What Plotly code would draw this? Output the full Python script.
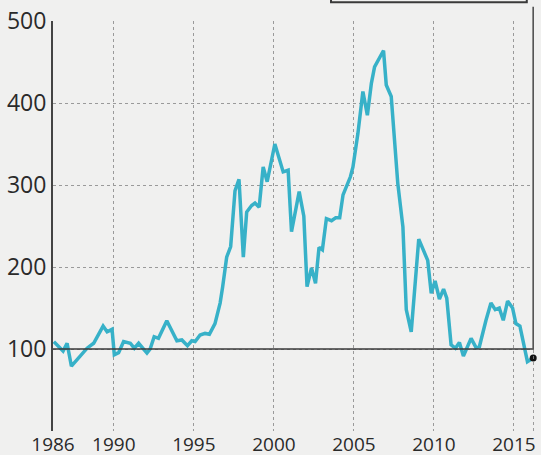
import plotly.graph_objects as go

# Traced data (decimal year, index value)
years = [1986.25, 1986.83, 1987.08, 1987.35, 1988.33, 1988.74, 1989.33, 1989.58, 1989.89,
         1990.03, 1990.30, 1990.61, 1991.03, 1991.28, 1991.55, 1992.07, 1992.27, 1992.52,
         1992.79, 1993.31, 1993.94, 1994.25, 1994.60, 1994.87, 1995.08, 1995.39, 1995.70,
         1995.97, 1996.32, 1996.64, 1996.80, 1997.05, 1997.30, 1997.57, 1997.82, 1998.09,
         1998.30, 1998.61, 1998.82, 1999.08, 1999.33, 1999.58, 2000.06, 2000.58, 2000.89,
         2001.10, 2001.58, 2001.87, 2002.07, 2002.35, 2002.60, 2002.82, 2003.03, 2003.28,
         2003.60, 2003.86, 2004.11, 2004.32, 2004.78, 2004.94, 2005.25, 2005.56, 2005.84,
         2006.09, 2006.29, 2006.60, 2006.85, 2007.02, 2007.33, 2007.74, 2008.06, 2008.27,
         2008.58, 2009.05, 2009.61, 2009.83, 2010.07, 2010.34, 2010.60, 2010.80, 2011.07,
         2011.34, 2011.59, 2011.84, 2012.32, 2012.63, 2012.84, 2013.25, 2013.56, 2013.83,
         2014.08, 2014.33, 2014.60, 2014.91, 2015.12, 2015.37, 2015.84, 2016.20]
values = [109, 97.5, 107, 79, 101, 107, 128, 121, 124,
          93, 95.5, 109, 107, 101, 107, 95, 100, 115,
          113, 134.5, 110, 111, 104, 110, 109, 117, 119,
          118, 131, 156, 176, 212, 225, 293, 307, 212,
          267, 275, 278, 273, 322, 304, 350, 316, 318,
          243, 292, 262, 176, 199, 180, 224, 221, 259,
          256.5, 260, 260, 288, 310, 322, 363, 414, 385,
          424, 444, 456, 464, 422, 408, 302, 249, 148,
          121, 234, 208, 168, 183, 161, 173, 162, 105,
          101, 108, 91.5, 113, 101.6, 103, 135, 156, 148,
          150, 135, 158.5, 150, 131, 128, 84.5, 89]

x_tickvals = [1986.2, 1990, 1995, 2000, 2005, 2010, 2015]
x_ticktext = ["1986", "1990", "1995", "2000", "2005", "2010", "2015"]
y_tickvals = [0, 100, 200, 300, 400, 500]
y_ticktext = ["", "100", "200", "300", "400", "500"]
baseline = 100

X_MIN, X_MAX = 1986.2, 2016.25

fig = go.Figure()
fig.add_trace(go.Scatter(
    x=years, y=values, mode="lines",
    line=dict(color="#37b1c8", width=3.5),
    hoverinfo="skip", showlegend=False,
))
fig.add_trace(go.Scatter(
    x=[years[-1]], y=[values[-1]], mode="markers",
    marker=dict(color="#111111", size=7),
    hoverinfo="skip", showlegend=False, cliponaxis=False,
))

dark = "#3a3a3a"
shapes = [
    # right border dotted
    dict(type="line", xref="x", yref="y", x0=X_MAX - 0.02, x1=X_MAX - 0.02, y0=0, y1=baseline,
         line=dict(color="#8a8a8a", width=1, dash="dot")),
    # baseline at 100
    dict(type="line", xref="x", yref="y", x0=X_MIN, x1=X_MAX - 0.02, y0=baseline, y1=baseline,
         line=dict(color=dark, width=1.5)),
    # vertical connector up to callout
    dict(type="line", xref="x", yref="paper", x0=X_MAX - 0.04, x1=X_MAX - 0.04,
         y0=baseline / 500, y1=1.035,
         line=dict(color="#555555", width=2)),
    # callout box (mostly above page)
    dict(type="rect", xref="paper", yref="paper", x0=0.578, x1=0.985, y0=1.046, y1=1.2,
         line=dict(color=dark, width=2), fillcolor="rgba(0,0,0,0)"),
]

fig.update_layout(
    width=541, height=455,
    margin=dict(l=53, r=7, t=21, b=24, autoexpand=False),
    paper_bgcolor="#f0f0ef", plot_bgcolor="#f0f0ef",
    font=dict(family="Open Sans", color="#2a2a2a"),
    shapes=shapes,
    xaxis=dict(
        range=[X_MIN, X_MAX], tickvals=x_tickvals, ticktext=x_ticktext,
        showgrid=True, gridcolor="#9a9a9a", griddash="dot", gridwidth=1,
        zeroline=False, showline=False, ticks="", automargin=False,
        tickfont=dict(size=19, color="#2a2a2a"),
    ),
    yaxis=dict(
        range=[0, 500], tickvals=y_tickvals, ticktext=y_ticktext,
        showgrid=True, gridcolor="#9a9a9a", griddash="dot", gridwidth=1,
        zeroline=False, showline=True, linecolor="#444444", linewidth=2,
        ticks="", automargin=False, tickfont=dict(size=23, color="#2a2a2a"),
    ),
)

fig.write_html("out.html", config={"displayModeBar": False},
               post_script="document.body.style.margin='0px';document.body.style.overflow='hidden';")
